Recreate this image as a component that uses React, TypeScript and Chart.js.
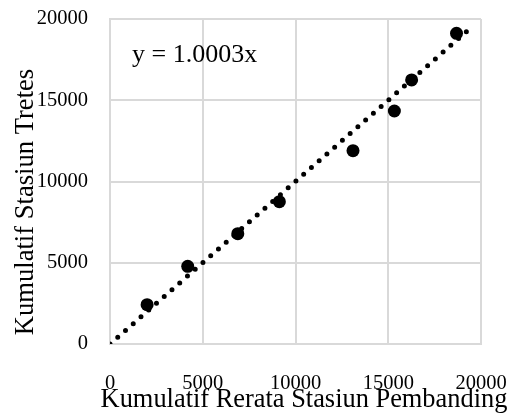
import { useEffect, useRef } from "react";
import { Chart, registerables } from "chart.js";

Chart.register(...registerables);

const FONT = '"Liberation Serif", "Times New Roman", serif';

// Observed cumulative values
const pembandingX = [2000, 4190, 6890, 9130, 13100, 15330, 16260, 18680];
const tretesY = [2420, 4780, 6790, 8760, 11900, 14340, 16250, 19120];

// Linear trendline y = 1.0003x (through origin)
const trendSlope = 1.0003;
const trendX = [0, 19600];

const axisMin = 0;
const axisMax = 20000;
const axisStep = 5000;

const xTitle = "Kumulatif Rerata Stasiun Pembanding";
const yTitle = "Kumulatif Stasiun Tretes";
const equationLabel = "y = 1.0003x";

const textPlugin = {
  id: "customText",
  afterDraw(chart: any) {
    const ctx = chart.ctx;
    const area = chart.chartArea;
    ctx.save();
    ctx.fillStyle = "#000";
    // equation
    ctx.font = `26px ${FONT}`;
    ctx.textAlign = "left";
    ctx.textBaseline = "alphabetic";
    ctx.fillText(equationLabel, area.left + 22, area.top + 43);
    // x title
    ctx.font = `26.4px ${FONT}`;
    ctx.textAlign = "center";
    ctx.fillText(xTitle, 304, 406.5);
    // y title
    ctx.translate(33, 202);
    ctx.rotate(-Math.PI / 2);
    ctx.font = `26.6px ${FONT}`;
    ctx.fillText(yTitle, 0, 0);
    ctx.restore();
  },
};

const zeroPad = (s: any) => {
  s.paddingTop = 0;
  s.paddingBottom = 0;
  s.paddingLeft = 0;
  s.paddingRight = 0;
};

export default function App() {
  const ref = useRef<HTMLCanvasElement | null>(null);

  useEffect(() => {
    document.body.style.margin = "0";
    if (!ref.current) return;
    const points = pembandingX.map((x, i) => ({ x, y: tretesY[i] }));
    const trend = trendX.map((x) => ({ x, y: x * trendSlope }));
    const tickFont = { family: FONT, size: 20.5 };
    const chart = new Chart(ref.current, {
      type: "scatter",
      data: {
        datasets: [
          {
            label: "Trendline",
            data: trend,
            showLine: true,
            borderColor: "#000",
            borderWidth: 5,
            borderDash: [0, 10.3],
            borderCapStyle: "round",
            pointRadius: 0,
            order: 0,
          } as any,
          {
            label: "Data",
            data: points,
            backgroundColor: "#000",
            borderColor: "#000",
            borderWidth: 0,
            pointRadius: 6.5,
            order: 1,
          },
        ],
      },
      options: {
        animation: false,
        responsive: false,
        devicePixelRatio: 1,
        layout: { padding: { top: 19, right: 29, left: 0, bottom: 0 } },
        plugins: {
          legend: { display: false },
          tooltip: { enabled: false },
        },
        scales: {
          x: {
            type: "linear",
            min: axisMin,
            max: axisMax,
            ticks: {
              stepSize: axisStep,
              font: tickFont,
              color: "#000",
              padding: 27,
              maxRotation: 0,
              callback: (v: any) => String(v),
            },
            grid: { color: "#d9d9d9", lineWidth: 2, drawTicks: false },
            border: { color: "#d9d9d9", width: 2 },
            afterFit: (s: any) => {
              s.height = 70;
              zeroPad(s);
            },
          },
          y: {
            type: "linear",
            min: axisMin,
            max: axisMax,
            ticks: {
              stepSize: axisStep,
              font: tickFont,
              color: "#000",
              padding: 22,
              callback: (v: any) => String(v),
            },
            grid: { color: "#d9d9d9", lineWidth: 2, drawTicks: false },
            border: { color: "#d9d9d9", width: 2 },
            afterFit: (s: any) => {
              s.width = 110;
              zeroPad(s);
            },
          },
        },
      },
      plugins: [textPlugin],
    });
    return () => chart.destroy();
  }, []);

  return (
    <div style={{ position: "absolute", left: 0, top: 0, width: 510, height: 414 }}>
      <canvas ref={ref} width={510} height={414} />
    </div>
  );
}
